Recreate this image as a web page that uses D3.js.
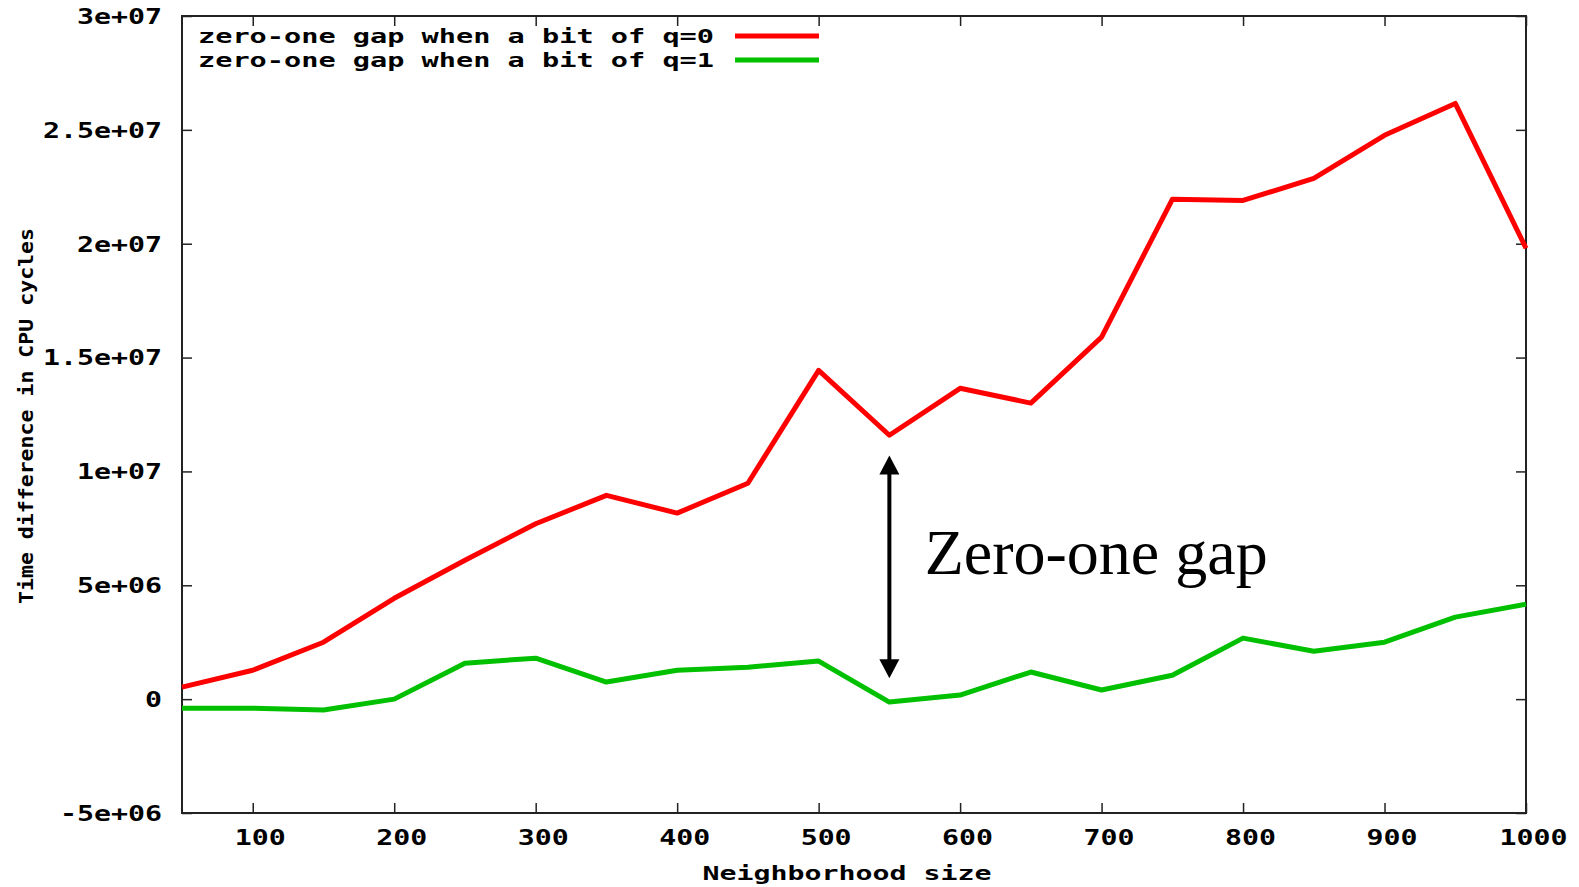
<!DOCTYPE html>
<html>
<head>
	<meta charset="utf-8">
	<title>Zero-one gap</title>
	<script src="https://cdnjs.cloudflare.com/ajax/libs/d3/7.8.5/d3.min.js"></script>
	<style>
		body { margin: 0; background: #fff; }
		.mono { font-family: "DejaVu Sans Mono", "Liberation Mono", monospace; font-weight: bold; fill: #000; }
	</style>
</head>
<body>
	<script>
		// neighborhood sizes (x values)
		var sizes = [50, 100, 150, 200, 250, 300, 350, 400, 450, 500, 550, 600, 650, 700, 750, 800, 850, 900, 950, 1000];
		// zero-one gap when a bit of q=0
		var gapQ0 = [0.53e6, 1.27e6, 2.5e6, 4.43e6, 6.1e6, 7.7e6, 8.95e6, 8.17e6, 9.48e6, 14.44e6,
			11.59e6, 13.65e6, 13.0e6, 15.9e6, 21.95e6, 21.9e6, 22.87e6, 24.76e6, 26.16e6, 19.8e6];
		// zero-one gap when a bit of q=1
		var gapQ1 = [-0.4e6, -0.4e6, -0.48e6, 0.0, 1.58e6, 1.8e6, 0.75e6, 1.27e6, 1.4e6, 1.67e6,
			-0.13e6, 0.18e6, 1.19e6, 0.4e6, 1.05e6, 2.68e6, 2.1e6, 2.5e6, 3.6e6, 4.17e6];

		var xTicks = [100, 200, 300, 400, 500, 600, 700, 800, 900, 1000];
		var yTicks = [-5e6, 0, 5e6, 1e7, 1.5e7, 2e7, 2.5e7, 3e7];
		var yTickLabels = ['-5e+06', '0', '5e+06', '1e+07', '1.5e+07', '2e+07', '2.5e+07', '3e+07'];

		var seriesNames = ['zero-one gap when a bit of q=0', 'zero-one gap when a bit of q=1'];
		var seriesColors = ['#ff0000', '#00c000'];

		// annotation: arrow between the curves at x=550, label beside it
		var gapArrow = {x: 550, from: 10.7e6, to: 0.92e6};
		var gapLabel = {x: 575, y: 5.49e6, text: 'Zero-one gap'};

		var width = 1579, height = 887;
		var margin = {top: 16, right: 53, bottom: 74, left: 182};
		var charW = 17;

		var svg = d3.select('body').append('svg')
			.attr('width', width)
			.attr('height', height);

		var g = svg.append('g')
			.attr('transform', 'translate(' + margin.left + ',' + margin.top + ')');

		var w = width - margin.left - margin.right;
		var h = height - margin.top - margin.bottom;

		var x = d3.scaleLinear().domain([50, 1000]).range([0, w]);
		var y = d3.scaleLinear().domain([-5e6, 3e7]).range([h, 0]);

		// axes, ticks pointing inwards like gnuplot
		var bottom = g.append('g')
			.attr('transform', 'translate(0,' + h + ')')
			.call(d3.axisBottom(x).tickValues(xTicks).tickSize(-10).tickFormat(d3.format('d')));
		var left = g.append('g')
			.call(d3.axisLeft(y).tickValues(yTicks).tickSize(-10)
				.tickFormat(function (d, i) { return yTickLabels[i]; }));
		g.append('g')
			.call(d3.axisTop(x).tickValues(xTicks).tickSize(-10).tickFormat(''));
		g.append('g')
			.attr('transform', 'translate(' + w + ',0)')
			.call(d3.axisRight(y).tickValues(yTicks).tickSize(-10).tickFormat(''));

		g.selectAll('.domain').remove();
		g.selectAll('.tick line').attr('stroke', '#222').attr('stroke-width', 1.5);

		bottom.selectAll('text')
			.attr('class', 'mono')
			.attr('font-size', 21)
			.attr('x', 7)
			.attr('y', 25)
			.attr('dy', '0.35em')
			.attr('textLength', function (d) { return String(d).length * charW; })
			.attr('lengthAdjust', 'spacingAndGlyphs');

		left.selectAll('text')
			.attr('class', 'mono')
			.attr('font-size', 21)
			.attr('x', -20)
			.attr('dy', '0.35em')
			.attr('textLength', function (d, i) { return yTickLabels[i].length * charW; })
			.attr('lengthAdjust', 'spacingAndGlyphs');

		g.selectAll('.tick text').attr('fill', '#000');

		// frame
		g.append('rect')
			.attr('width', w)
			.attr('height', h)
			.attr('fill', 'none')
			.attr('stroke', '#222')
			.attr('stroke-width', 2);

		// lines
		var line = d3.line()
			.x(function (d) { return x(d[0]); })
			.y(function (d) { return y(d[1]); });

		[gapQ0, gapQ1].forEach(function (vals, i) {
			g.append('path')
				.datum(sizes.map(function (s, j) { return [s, vals[j]]; }))
				.attr('fill', 'none')
				.attr('stroke', seriesColors[i])
				.attr('stroke-width', 5)
				.attr('stroke-linejoin', 'round')
				.attr('d', line);
		});

		// legend
		var legend = g.append('g');
		seriesNames.forEach(function (name, i) {
			var ly = 20 + i * 24;
			legend.append('text')
				.attr('class', 'mono')
				.attr('font-size', 20)
				.attr('x', 532)
				.attr('y', ly)
				.attr('dy', '0.35em')
				.attr('text-anchor', 'end')
				.attr('textLength', name.length * 17.2)
				.attr('lengthAdjust', 'spacingAndGlyphs')
				.text(name);
			legend.append('line')
				.attr('x1', 553)
				.attr('x2', 637)
				.attr('y1', ly)
				.attr('y2', ly)
				.attr('stroke', seriesColors[i])
				.attr('stroke-width', 5);
		});

		// axis titles
		svg.append('text')
			.attr('class', 'mono')
			.attr('font-size', 20)
			.attr('x', 847)
			.attr('y', 873)
			.attr('dy', '0.35em')
			.attr('text-anchor', 'middle')
			.attr('textLength', 17 * charW)
			.attr('lengthAdjust', 'spacingAndGlyphs')
			.text('Neighborhood size');

		svg.append('text')
			.attr('class', 'mono')
			.attr('font-size', 19)
			.attr('transform', 'translate(26,416) rotate(-90)')
			.attr('dy', '0.35em')
			.attr('text-anchor', 'middle')
			.attr('textLength', 376)
			.attr('lengthAdjust', 'spacingAndGlyphs')
			.text('Time difference in CPU cycles');

		// zero-one gap arrow: shaft plus two filled heads
		var ax = x(gapArrow.x);
		var yTop = y(gapArrow.from);
		var yBot = y(gapArrow.to);
		var headW = 10, headL = 19;

		g.append('line')
			.attr('x1', ax)
			.attr('x2', ax)
			.attr('y1', yTop + headL - 2)
			.attr('y2', yBot - headL + 2)
			.attr('stroke', '#000')
			.attr('stroke-width', 4);

		g.append('path')
			.attr('d', 'M' + ax + ',' + yTop + 'L' + (ax + headW) + ',' + (yTop + headL) +
				'L' + (ax - headW) + ',' + (yTop + headL) + 'Z')
			.attr('fill', '#000');
		g.append('path')
			.attr('d', 'M' + ax + ',' + yBot + 'L' + (ax + headW) + ',' + (yBot - headL) +
				'L' + (ax - headW) + ',' + (yBot - headL) + 'Z')
			.attr('fill', '#000');

		g.append('text')
			.attr('x', x(gapLabel.x))
			.attr('y', y(gapLabel.y))
			.attr('font-family', '"Liberation Serif", "Times New Roman", serif')
			.attr('font-size', 64)
			.attr('fill', '#000')
			.text(gapLabel.text);
	</script>
</body>
</html>
